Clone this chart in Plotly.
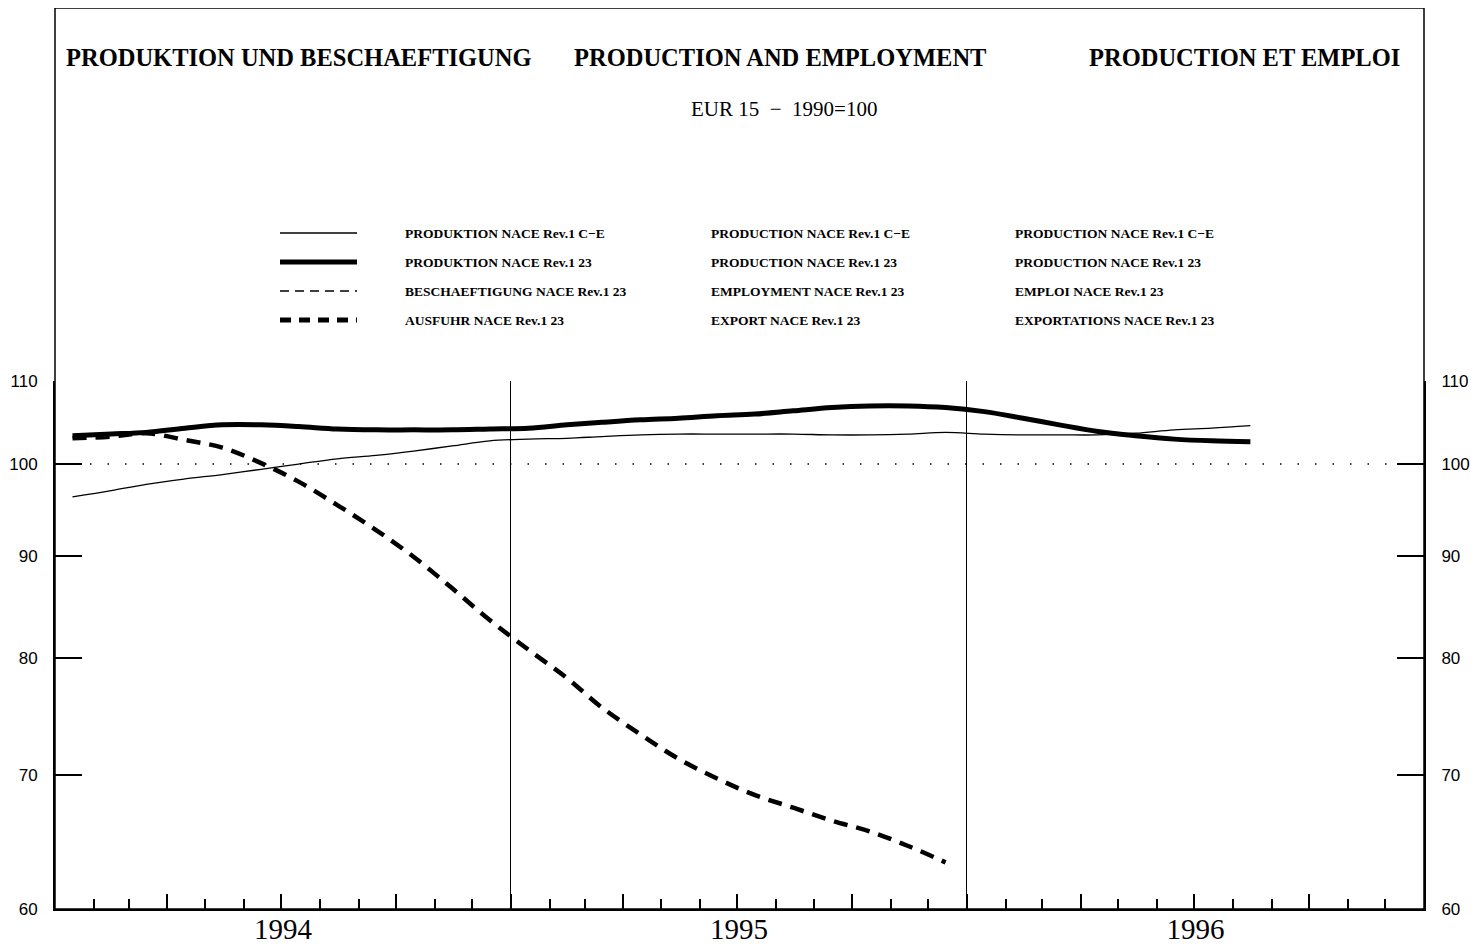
import math
import pandas as pd
import plotly.graph_objects as go

# --- DATA (EUR 15, 1990=100, monthly) ---
months = pd.date_range("1994-01-01", periods=32, freq="MS") + pd.Timedelta(days=14)

prod_ce = [96.3, 97.0, 97.7, 98.3, 98.8, 99.4, 100.0, 100.6, 101.0, 101.5, 102.1, 102.7,
           102.9, 103.0, 103.2, 103.4, 103.5, 103.5, 103.5, 103.5, 103.4, 103.4, 103.5, 103.7,
           103.5, 103.4, 103.4, 103.4, 103.6, 104.0, 104.2, 104.5]
prod_23 = [103.3, 103.5, 103.7, 104.2, 104.6, 104.6, 104.4, 104.1, 104.0, 104.0, 104.0, 104.1,
           104.2, 104.6, 104.9, 105.2, 105.4, 105.7, 105.9, 106.3, 106.7, 106.9, 106.9, 106.7,
           106.2, 105.4, 104.6, 103.8, 103.3, 102.9, 102.7, 102.6]
export_23 = [103.0, 103.2, 103.6, 102.8, 101.9, 100.1, 98.0, 95.4, 92.7, 89.9, 86.7, 83.6,
             80.8, 78.2, 75.6, 73.3, 71.3, 69.7, 68.4, 67.4, 66.4, 65.6, 64.5, 63.3]

base_index = 100
y_ticks = [60, 70, 80, 90, 100, 110]
x_start, x_end = "1994-01-01", "1997-01-01"

titles = ["PRODUKTION UND BESCHAEFTIGUNG", "PRODUCTION AND EMPLOYMENT", "PRODUCTION ET EMPLOI"]
subtitle = "EUR 15  \u2212  1990=100"
legend_de = ["PRODUKTION NACE Rev.1 C\u2212E", "PRODUKTION NACE Rev.1 23",
             "BESCHAEFTIGUNG NACE Rev.1 23", "AUSFUHR NACE Rev.1 23"]
legend_en = ["PRODUCTION NACE Rev.1 C\u2212E", "PRODUCTION NACE Rev.1 23",
             "EMPLOYMENT NACE Rev.1 23", "EXPORT NACE Rev.1 23"]
legend_fr = ["PRODUCTION NACE Rev.1 C\u2212E", "PRODUCTION NACE Rev.1 23",
             "EMPLOI NACE Rev.1 23", "EXPORTATIONS NACE Rev.1 23"]

# --- LAYOUT GEOMETRY ---
# the page body adds an 8px margin, so the figure is 8px smaller than the window
W, H = 1474, 939
L, R, T, B = 47, 58, 373, 38
PW, PH = W - L - R, H - T - B
OFF = 8


def px(x):
    # page pixel -> paper x
    return (x - OFF - L) / PW


def py(y):
    # page pixel -> paper y
    return (H - B - (y - OFF)) / PH


SERIF = "Liberation Serif, Times New Roman, serif"
SANS = "Liberation Sans Narrow, Arial Narrow, Liberation Sans, Arial, sans-serif"

line_styles = [
    dict(color="black", width=1.3),
    dict(color="black", width=5),
    dict(color="black", width=1.3, dash="9px,6px"),
    dict(color="black", width=5, dash="11px,8px"),
]

fig = go.Figure()

fig.add_trace(go.Scatter(x=months, y=prod_ce, mode="lines",
                         line=dict(line_styles[0], shape="spline"), showlegend=False))
fig.add_trace(go.Scatter(x=months, y=prod_23, mode="lines",
                         line=dict(line_styles[1], shape="spline"), showlegend=False))
fig.add_trace(go.Scatter(x=months[:len(export_23)], y=export_23, mode="lines",
                         line=dict(color="black", width=4.5, dash="14px,9px", shape="spline"),
                         showlegend=False))

# reference line at the base index, on the secondary axes so they get drawn
fig.add_trace(go.Scatter(x=[x_start, x_end], y=[base_index, base_index], mode="lines",
                         line=dict(color="black", width=1.5, dash="1.5px,16px"),
                         xaxis="x2", yaxis="y2", showlegend=False, hoverinfo="skip"))

# --- TITLES AND LEGEND ---
ann = []
for text, cx in zip(titles, [299, 780, 1244]):
    ann.append(dict(text=text, x=px(cx), y=py(58), xref="paper", yref="paper",
                    xanchor="center", yanchor="middle", showarrow=False,
                    font=dict(family=SERIF, size=24.5, color="black", weight="bold")))
ann.append(dict(text=subtitle, x=px(784), y=py(109), xref="paper", yref="paper",
                xanchor="center", yanchor="middle", showarrow=False,
                font=dict(family=SERIF, size=21, color="black")))

shapes = []
rows_y = [233, 262, 291, 320]
for i, ry in enumerate(rows_y):
    shapes.append(dict(type="line", xref="paper", yref="paper",
                       x0=px(280), x1=px(357), y0=py(ry), y1=py(ry), line=line_styles[i]))
    for col, cx in zip([legend_de, legend_en, legend_fr], [403, 709, 1013]):
        ann.append(dict(text=col[i], x=px(cx), y=py(ry), xref="paper", yref="paper",
                        xanchor="left", yanchor="middle", showarrow=False,
                        font=dict(family=SERIF, size=13.5, color="black", weight="bold")))

# outer frame enclosing titles and legend
shapes.append(dict(type="rect", xref="paper", yref="paper", x0=0, x1=1, y0=0, y1=py(8),
                   line=dict(color="black", width=1.5), layer="above"))

yaxis_common = dict(
    type="log", range=[math.log10(60), math.log10(110)],
    tickvals=y_ticks, ticktext=[str(v) for v in y_ticks],
    ticks="inside", ticklen=27, tickwidth=1.5, tickcolor="black",
    showline=True, linecolor="black", linewidth=2,
    showgrid=False, zeroline=False, automargin=False,
    ticklabelstandoff=12,
    tickfont=dict(family=SANS, size=17, color="black"),
)

fig.update_layout(
    width=W, height=H,
    margin=dict(l=L, r=R, t=T, b=B, pad=0),
    paper_bgcolor="white", plot_bgcolor="white",
    showlegend=False,
    annotations=ann, shapes=shapes,
    xaxis=dict(
        type="date", range=[x_start, x_end],
        dtick="M3", tick0=x_start, showticklabels=False,
        ticks="inside", ticklen=15, tickwidth=1.5, tickcolor="black",
        minor=dict(dtick="M1", tick0=x_start, ticks="inside", ticklen=10,
                   tickwidth=1.5, tickcolor="black", showgrid=False),
        showline=True, linecolor="black", linewidth=2,
        showgrid=False, zeroline=False, automargin=False,
    ),
    xaxis2=dict(
        type="date", overlaying="x", matches="x", anchor="y", side="bottom",
        range=[x_start, x_end],
        dtick="M12", tick0=x_start, tickformat="%Y", ticklabelmode="period",
        ticks="", showline=False, zeroline=False,
        showgrid=True, gridcolor="black", gridwidth=1.3,
        tickfont=dict(family=SERIF, size=29, color="black"), automargin=False,
    ),
    yaxis=yaxis_common,
    yaxis2=dict(yaxis_common, overlaying="y", matches="y", side="right", anchor="x"),
)

fig.write_html("out.html")
